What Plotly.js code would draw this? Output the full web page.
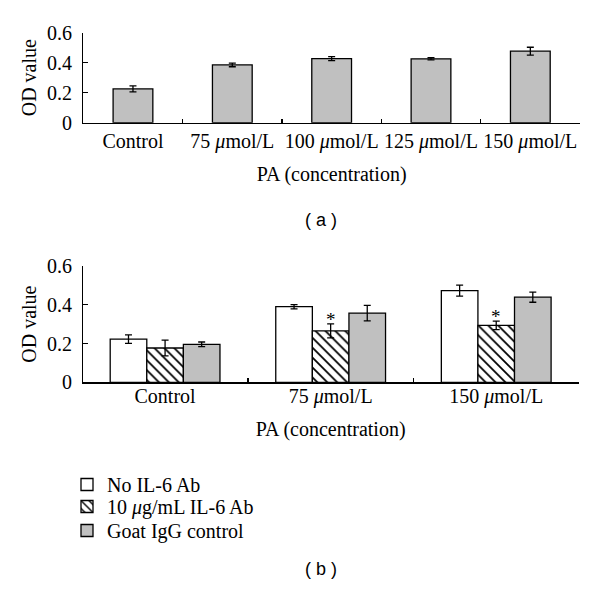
<!DOCTYPE html>
<html>
<head>
<meta charset="utf-8">
<script src="https://cdn.plot.ly/plotly-3.0.1.min.js"></script>
<style>html,body{margin:0;padding:0;background:#fff;}#chart{width:600px;height:597px;}</style>
</head>
<body>
<div id="chart"></div>
<script>
// Panel (a)
const catsA = ["Control", "75 <i>μ</i>mol/L", "100 <i>μ</i>mol/L", "125 <i>μ</i>mol/L", "150 <i>μ</i>mol/L"];
const valsA = [0.225, 0.385, 0.427, 0.426, 0.477];
const errA  = [0.020, 0.012, 0.013, 0.007, 0.026];

// Panel (b)
const catsB = ["Control", "75 <i>μ</i>mol/L", "150 <i>μ</i>mol/L"];
const seriesNames = ["No IL-6 Ab", "10 <i>μ</i>g/mL IL-6 Ab", "Goat IgG control"];
const noAb   = [0.223, 0.390, 0.473];
const noAbE  = [0.022, 0.011, 0.028];
const il6Ab  = [0.177, 0.265, 0.294];
const il6AbE = [0.041, 0.036, 0.022];
const goat   = [0.196, 0.357, 0.439];
const goatE  = [0.012, 0.040, 0.026];
const sigIdx = [1, 2]; // categories with * on IL-6 Ab bars

const serif = "Liberation Serif, Times New Roman, serif";
const gray = "#c0c0c0";
const errStyle = (arr) => ({type: "data", array: arr, visible: true, color: "#000", thickness: 1.3, width: 3.5});

const traces = [
  {type: "bar", x: catsA, y: valsA, xaxis: "x", yaxis: "y", width: 0.4, showlegend: false,
   marker: {color: gray, line: {color: "#000", width: 1.3}}, error_y: errStyle(errA)},
  {type: "bar", name: seriesNames[0], x: catsB, y: noAb, xaxis: "x2", yaxis: "y2", legend: "legend",
   marker: {color: "#fff", line: {color: "#000", width: 1.3}}, error_y: errStyle(noAbE)},
  {type: "bar", name: seriesNames[1], x: catsB, y: il6Ab, xaxis: "x2", yaxis: "y2", legend: "legend2",
   marker: {color: "#fff", line: {color: "#000", width: 1.3},
            pattern: {shape: "\\", fgcolor: "#000", bgcolor: "#fff", size: 7, solidity: 0.25}},
   error_y: errStyle(il6AbE)},
  {type: "bar", name: seriesNames[2], x: catsB, y: goat, xaxis: "x2", yaxis: "y2", legend: "legend3",
   marker: {color: gray, line: {color: "#000", width: 1.3}}, error_y: errStyle(goatE)}
];

const axisFont = {family: serif, size: 20, color: "#000"};
const yax = (domain) => ({
  domain: domain, range: [0, 0.6], dtick: 0.2, tick0: 0, showgrid: false, zeroline: false,
  showline: true, linecolor: "#000", linewidth: 1.3, ticks: "inside", ticklen: 5, tickwidth: 1.3,
  tickcolor: "#000", tickfont: axisFont, ticklabelstandoff: 6,
  title: {text: "OD value", font: axisFont, standoff: 5}
});
const xax = (domain, anchor, lblOff, titleOff) => ({
  domain: domain, anchor: anchor, type: "category", tickson: "boundaries", showgrid: false,
  showline: true, linecolor: "#000", linewidth: 1.3, ticks: "inside", ticklen: 4, tickwidth: 1.3,
  tickcolor: "#000", tickfont: axisFont, ticklabelstandoff: lblOff, tickangle: 0,
  title: {text: "PA (concentration)", font: axisFont, standoff: titleOff}
});

const annotations = sigIdx.map(i => ({
  x: catsB[i], y: il6Ab[i] + il6AbE[i] + 0.043, xref: "x2", yref: "y2", text: "*", yshift: -4,
  showarrow: false, font: {family: serif, size: 19, color: "#000"}
}));
annotations.push({x: 0.535, y: 1 - 220/597, xref: "paper", yref: "paper", text: "( a )", showarrow: false,
  font: {family: "Liberation Sans, Arial, sans-serif", size: 18, color: "#000"}});
annotations.push({x: 0.535, y: 1 - 581/597, xref: "paper", yref: "paper", text: "( b )", showarrow: false,
  font: {family: "Liberation Sans, Arial, sans-serif", size: 18, color: "#000"}});

const legendBase = (rowY) => ({x: 67/600, y: 1 - rowY/597, xanchor: "left", yanchor: "middle",
  font: {family: serif, size: 20, color: "#000"}, bgcolor: "rgba(0,0,0,0)", borderwidth: 0});

const layout = {
  width: 600, height: 597, margin: {l: 0, r: 0, t: 0, b: 0},
  paper_bgcolor: "#fff", plot_bgcolor: "#fff",
  barmode: "group", bargap: 0.337, bargroupgap: 0,
  xaxis: xax([83.3/600, 580/600], "y", 0, 15),
  yaxis: yax([1 - 122.7/597, 1 - 32.7/597]),
  xaxis2: xax([82.3/600, 579/600], "y2", -5, 15),
  yaxis2: yax([1 - 382.3/597, 1 - 266/597]),
  showlegend: true,
  legend: legendBase(484.5),
  legend2: legendBase(506.5),
  legend3: legendBase(530.5),
  annotations: annotations
};

Plotly.newPlot("chart", traces, layout, {displayModeBar: false, staticPlot: true});
</script>
</body>
</html>
